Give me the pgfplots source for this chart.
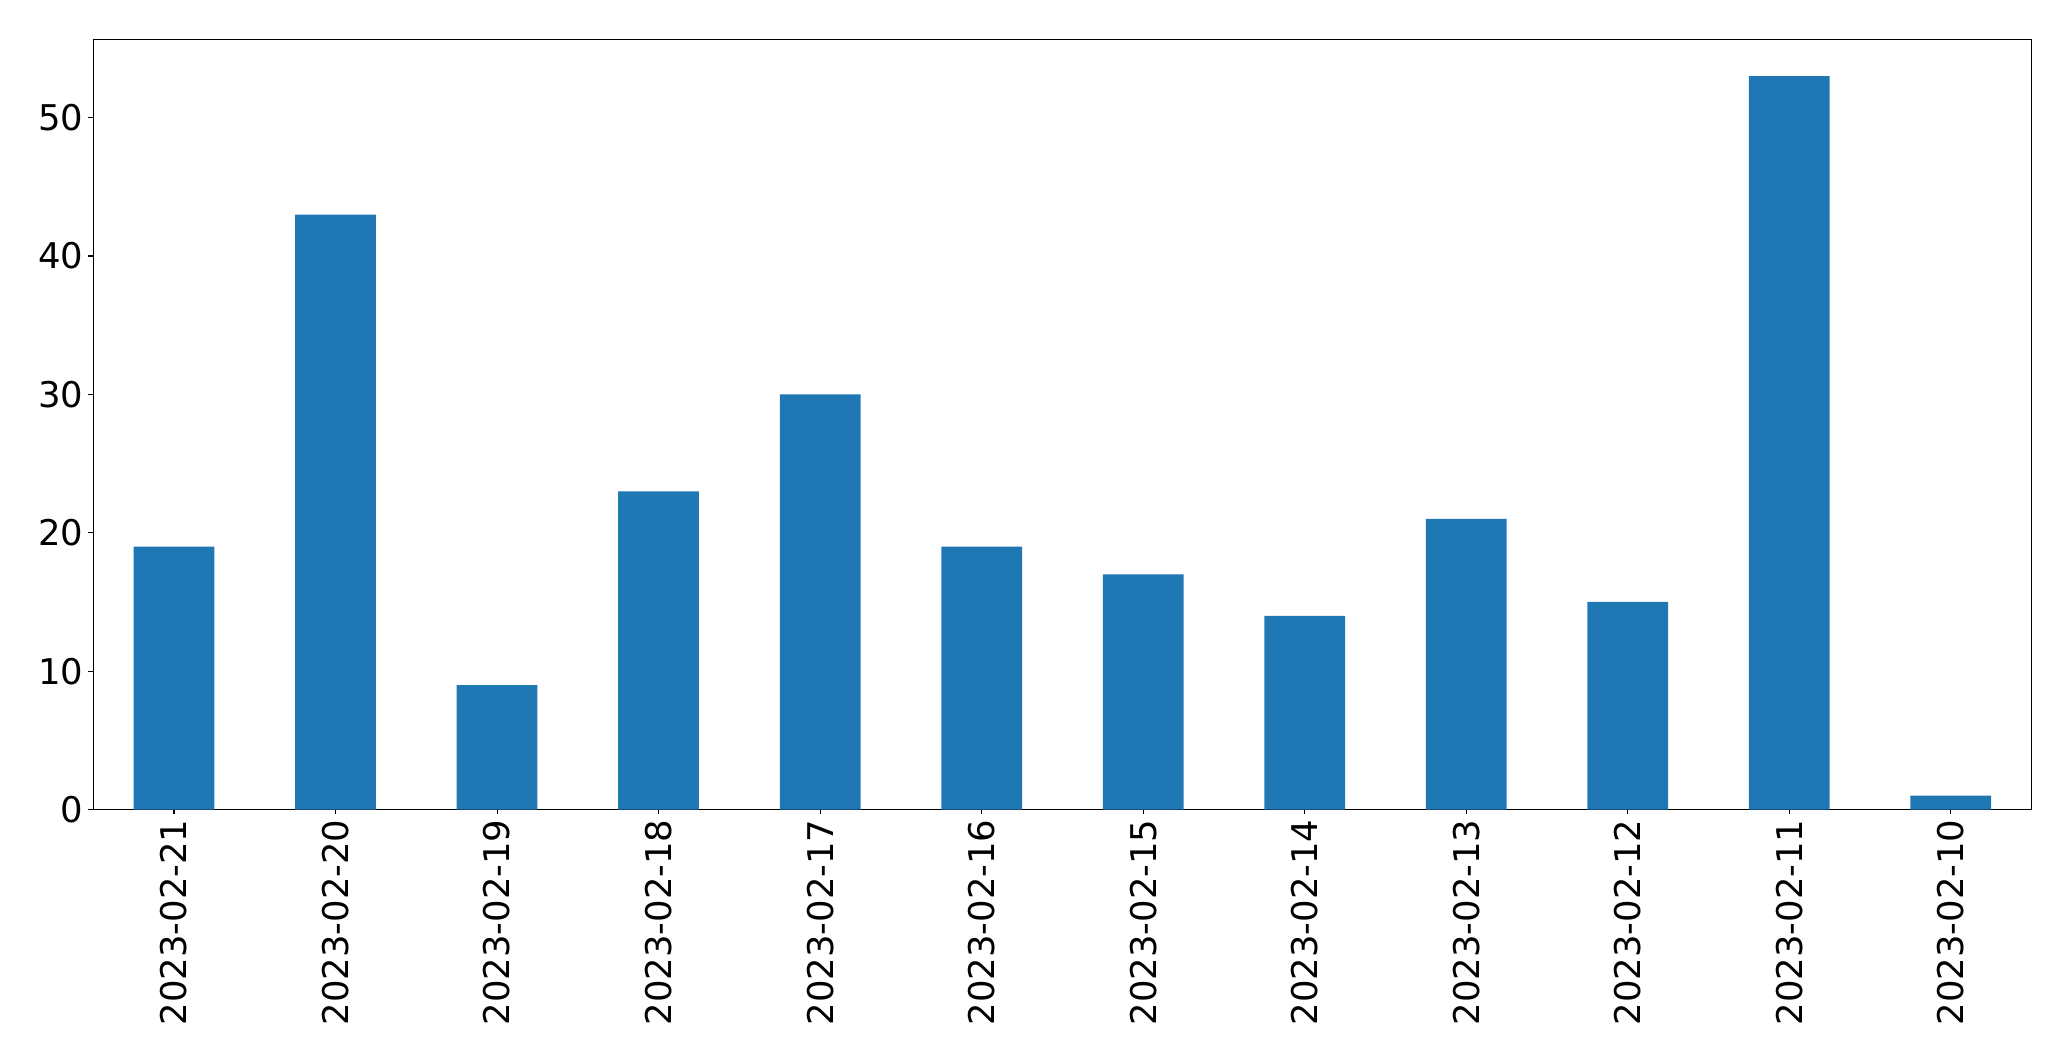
\documentclass[border=0pt]{standalone}
\usepackage{fontspec}
\setmainfont{DejaVu Sans}
\usepackage{pgfplots}
\pgfplotsset{compat=1.18}
\definecolor{mplblue}{HTML}{1F77B4}

\begin{document}
\begin{tikzpicture}
\begin{axis}[
    width=1395.4pt, height=554.4pt,
    scale only axis,
    ybar, bar width=0.5,
    xmin=-0.5, xmax=11.5,
    ymin=0, ymax=55.65,
    xtick={0,...,11},
    xticklabels={2023-02-21,2023-02-20,2023-02-19,2023-02-18,2023-02-17,2023-02-16,
                 2023-02-15,2023-02-14,2023-02-13,2023-02-12,2023-02-11,2023-02-10},
    ytick={0,10,20,30,40,50},
    xtick pos=lower, ytick pos=left,
    tick align=outside,
    major tick length=3.5pt,
    tick style={black, line width=0.8pt},
    axis line style={line width=0.8pt},
    /pgf/number format/assume math mode=true,
    ticklabel style={font=\fontsize{25.5}{30}\selectfont, inner sep=3.5pt},
    x tick label style={rotate=90, anchor=east},
]
\addplot[fill=mplblue, draw=none] coordinates {
    (0,19)(1,43)(2,9)(3,23)(4,30)(5,19)(6,17)(7,14)(8,21)(9,15)(10,53)(11,1)
};
\end{axis}
\path (current bounding box.south west) ++(-24pt,-21pt);
\path (current bounding box.north east) ++(28pt,28pt);
\end{tikzpicture}
\end{document}
